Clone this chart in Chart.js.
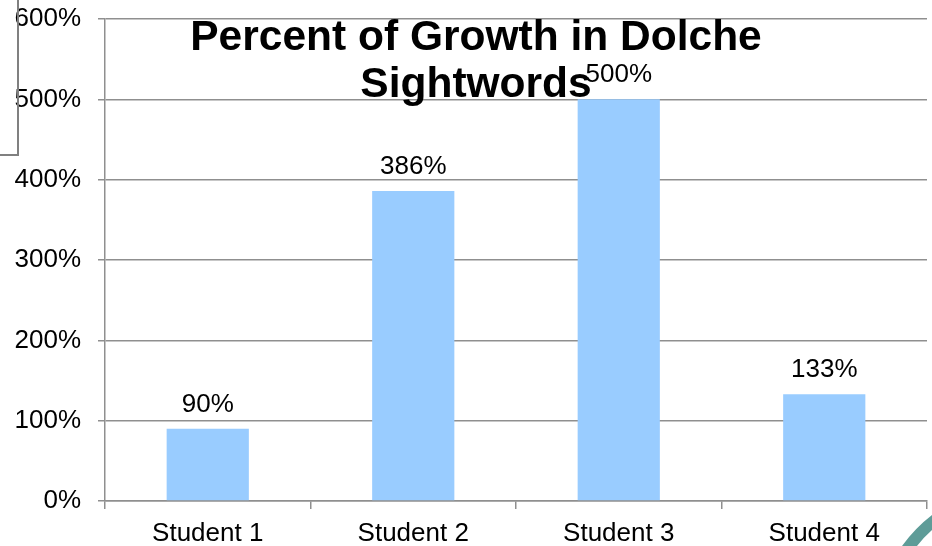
<!DOCTYPE html>
<html>
<head>
<meta charset="utf-8">
<script src="https://cdn.jsdelivr.net/npm/chart.js@4"></script>
<style>
  html, body { margin: 0; padding: 0; background: #fff; }
  #wrap { width: 932px; height: 546px; position: relative; }
</style>
</head>
<body>
<div id="wrap"><canvas id="growthChart"></canvas></div>
<script>
// chart data
const students = ['Student 1', 'Student 2', 'Student 3', 'Student 4'];
const growthPct = [90, 386, 500, 133];
const titleLines = ['Percent of Growth in Dolche', 'Sightwords'];
const yTicks = [0, 100, 200, 300, 400, 500, 600];

const gridGray = '#8f8f8f';
const fontFamily = '"Liberation Sans", Arial, sans-serif';
const labelFont = '26px ' + fontFamily;

// title + value labels + the slide decorations
const overlayPlugin = {
    id: 'overlay',
    afterDraw(chart) {
        const ctx = chart.ctx;
        const x = chart.scales.x;
        const y = chart.scales.y;
        ctx.save();

        // slide bracket at top left
        ctx.strokeStyle = '#808080';
        ctx.lineWidth = 2;
        ctx.beginPath();
        ctx.moveTo(18, 0);
        ctx.lineTo(18, 155);
        ctx.lineTo(0, 155);
        ctx.stroke();

        // teal swoosh bottom right
        ctx.fillStyle = '#5e9c98';
        ctx.beginPath();
        ctx.moveTo(902, 546);
        ctx.quadraticCurveTo(915, 528, 932, 515);
        ctx.lineTo(932, 530);
        ctx.quadraticCurveTo(924, 537, 917, 546);
        ctx.closePath();
        ctx.fill();

        // value labels
        ctx.fillStyle = '#000';
        ctx.font = labelFont;
        ctx.textAlign = 'center';
        ctx.textBaseline = 'alphabetic';
        growthPct.forEach((v, i) => {
            ctx.fillText(v + '%', x.getPixelForValue(i), y.getPixelForValue(v) - 17);
        });

        // title
        ctx.font = 'bold 42.5px ' + fontFamily;
        ctx.fillText(titleLines[0], 476, 50);
        ctx.fillText(titleLines[1], 476, 97);
        ctx.restore();
    }
};

const ctx = document.getElementById('growthChart').getContext('2d');
new Chart(ctx, {
    type: 'bar',
    data: {
        labels: students,
        datasets: [{
            label: 'Growth',
            data: growthPct,
            backgroundColor: '#99ccff',
            borderWidth: 0,
            barPercentage: 0.4,
            categoryPercentage: 1
        }]
    },
    options: {
        responsive: true,
        maintainAspectRatio: false,
        animation: false,
        layout: { padding: { top: 19, right: 5, left: 0, bottom: 0 } },
        plugins: {
            legend: { display: false },
            title: { display: false },
            tooltip: { enabled: false }
        },
        scales: {
            x: {
                grid: {
                    offset: true,
                    drawOnChartArea: false,
                    drawTicks: true,
                    tickLength: 8,
                    color: gridGray,
                    lineWidth: 1.5
                },
                border: { display: true, color: gridGray, width: 1.5 },
                ticks: {
                    color: '#000',
                    padding: 9,
                    font: { family: fontFamily, size: 26 }
                },
                afterFit(scale) {
                    scale.height = 45;
                    scale.paddingLeft = 0;
                    scale.paddingRight = 0;
                }
            },
            y: {
                min: 0,
                max: 600,
                afterBuildTicks(scale) {
                    scale.ticks = yTicks.map(v => ({ value: v }));
                },
                grid: {
                    color: gridGray,
                    lineWidth: 1.5,
                    drawTicks: true,
                    tickLength: 7
                },
                border: { display: true, color: gridGray, width: 1.5 },
                ticks: {
                    color: '#000',
                    padding: 17,
                    font: { family: fontFamily, size: 26 },
                    callback: v => v + '%'
                },
                afterFit(scale) {
                    scale.width = 105;
                    scale.paddingTop = 0;
                    scale.paddingBottom = 0;
                }
            }
        }
    },
    plugins: [overlayPlugin]
});
</script>
</body>
</html>
